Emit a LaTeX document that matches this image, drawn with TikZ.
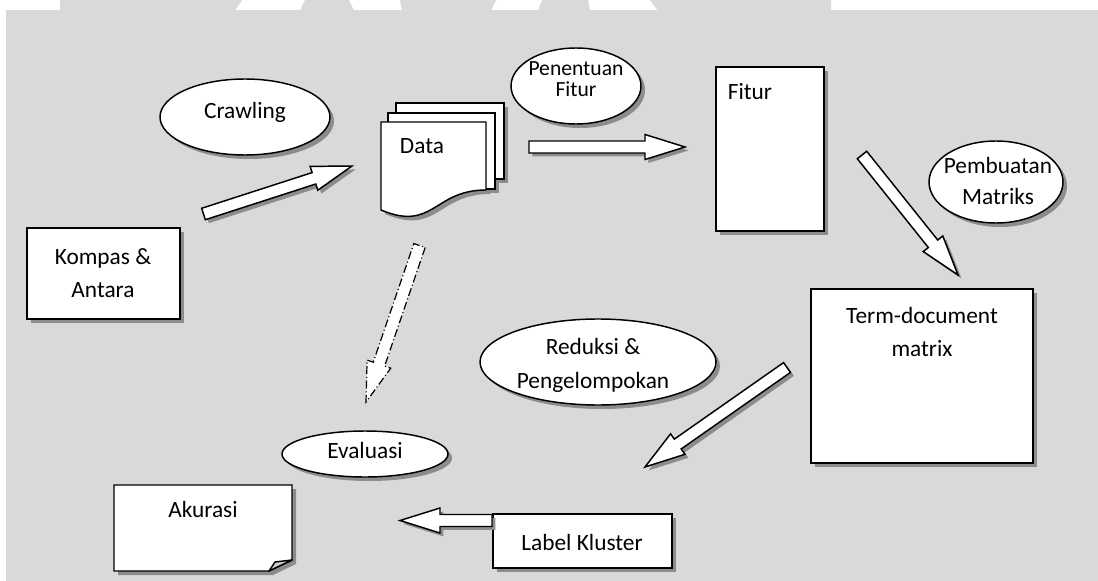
\documentclass[tikz,border=0pt]{standalone}
\usepackage{fontspec}
\setmainfont{Carlito}
\usetikzlibrary{shapes.geometric,shadows}
\definecolor{bgc}{HTML}{D9D9D9}
\definecolor{shadowc}{HTML}{8C8C8C}
\definecolor{foldc}{HTML}{CDCDCD}
\tikzset{
  shapebase/.style={draw=black, line width=1.1pt, fill=white},
  shd/.style={drop shadow={shadow xshift=3pt, shadow yshift=-3pt, opacity=1, fill=shadowc}},
  boxnode/.style={shapebase, shd, rectangle, inner sep=0pt, outer sep=0pt},
  ellnode/.style={shapebase, shd, ellipse, inner sep=0pt, outer sep=0pt},
  txt/.style={font=\fontsize{17.5}{24.75}\selectfont, inner sep=0pt, anchor=base, text=black},
  smalltxt/.style={txt, font=\fontsize{16.2}{20}\selectfont},
  arrowbody/.style={draw=black, line width=1.1pt, fill=white, line join=miter},
  dasharrow/.style={draw=black, line width=0.9pt, fill=white, dash pattern=on 6pt off 2pt on 0.8pt off 2pt},
}
% block arrow helpers
\newcommand\bcompute[2]{%
  \pgfpointanchor{#1}{center}\pgfgetlastxy{\bsx}{\bsy}%
  \pgfpointanchor{#2}{center}\pgfgetlastxy{\bex}{\bey}%
  \pgfmathsetmacro\bang{atan2(\bey-\bsy,\bex-\bsx)}%
  \pgfmathsetmacro\blen{veclen(\bex-\bsx,\bey-\bsy)/0.75}%
  \pgfmathsetmacro\bhb{\blen-40}%
}
\newcommand\bshape{(0,-6) -- (\bhb,-6) -- (\bhb,-12.5) -- (\blen,0) -- (\bhb,12.5) -- (\bhb,6) -- (0,6) -- cycle}
\newcommand\barrow[2]{%
  \bcompute{#1}{#2}%
  \begin{scope}[shift={(\bsx+2.6pt,\bsy-2.6pt)},rotate=\bang]
    \fill[shadowc] \bshape;
  \end{scope}
  \begin{scope}[shift={(\bsx,\bsy)},rotate=\bang]
    \path[arrowbody] \bshape;
  \end{scope}
}
\newcommand\dbarrow[2]{%
  \bcompute{#1}{#2}%
  \begin{scope}[shift={(\bsx,\bsy)},rotate=\bang]
    \path[dasharrow] \bshape;
  \end{scope}
}
\begin{document}
\begin{tikzpicture}[x=0.75pt,y=-0.75pt]
\useasboundingbox (0,0) rectangle (1098,581);
% background
\fill[white] (0,0) rectangle (1098,581);
\fill[bgc] (6,10.5) rectangle (1098,581);
\fill[bgc] (60,0) -- (242,0) -- (235,10.6) -- (60,10.6) -- cycle;
\fill[bgc] (305,0) -- (349,0) -- (354,10.6) -- (300,10.6) -- cycle;
\fill[bgc] (400,0) -- (496,0) -- (491,10.6) -- (402,10.6) -- cycle;
\fill[bgc] (542,0) -- (588,0) -- (590,10.6) -- (538,10.6) -- cycle;
\fill[bgc] (650,0) -- (831,0) -- (831,10.6) -- (658,10.6) -- cycle;

% boxes
\node[boxnode, minimum width=114.75pt, minimum height=68.25pt] (kompas) at (103.5,273.5) {};
\node[boxnode, minimum width=81pt, minimum height=123pt] (fitur) at (770,149) {};
\node[boxnode, minimum width=166.5pt, minimum height=130.5pt] (term) at (922,376) {};
\node[boxnode, minimum width=134.25pt, minimum height=40.5pt] (label) at (582.5,541) {};

% ellipses
\node[ellnode, minimum width=127.5pt, minimum height=57pt] (crawl) at (245,117) {};
\node[ellnode, minimum width=97.5pt, minimum height=57pt] (penentuan) at (576,86) {};
\node[ellnode, minimum width=100.5pt, minimum height=61.5pt] (pembuatan) at (996,182) {};
\node[ellnode, minimum width=177pt, minimum height=64.5pt] (reduksi) at (598,362) {};
\node[ellnode, minimum width=124.5pt, minimum height=34.5pt] (evaluasi) at (365,454) {};

% multi-document "Data"
\begin{scope}[shift={(4,4)}]
  \fill[shadowc] (396,103) rectangle (504,179);
  \fill[shadowc] (388,113) rectangle (495,189);
  \fill[shadowc] (381,122) -- (486,122) -- (486,190) .. controls (433.5,190) and (433.5,232) .. (381,210) -- cycle;
\end{scope}
\path[shapebase] (396,103) rectangle (504,179);
\path[shapebase] (388,113) rectangle (495,189);
\path[shapebase] (381,122) -- (486,122) -- (486,190) .. controls (433.5,190) and (433.5,232) .. (381,210) -- cycle;
\coordinate (data) at (433,160);

% folded-corner "Akurasi"
\fill[shadowc] (118,489) -- (296,489) -- (296,564) -- (273,575) -- (118,575) -- cycle;
\path[shapebase] (114,485) -- (292,485) -- (292,560) -- (269,571) -- (114,571) -- cycle;
\path[draw=black, line width=1.1pt, fill=foldc, line join=round] (269,571) -- (275,562) -- (292,560) -- cycle;
\coordinate (akurasi) at (203,528);

% arrow end points
\coordinate (a1s) at (203.5,214);   \coordinate (a1e) at (352,166);
\coordinate (a2s) at (529,147);     \coordinate (a2e) at (685,147);
\coordinate (a3s) at (862,155);     \coordinate (a3e) at (958,275);
\coordinate (a4s) at (787,367.5);   \coordinate (a4e) at (645,467);
\coordinate (a5s) at (492,520.5);   \coordinate (a5e) at (400,520.5);
\coordinate (a6s) at (419.5,245.5); \coordinate (a6e) at (366,402);

\barrow{a1s}{a1e}
\barrow{a2s}{a2e}
\barrow{a3s}{a3e}
\barrow{a4s}{a4e}
\barrow{a5s}{a5e}
\dbarrow{a6s}{a6e}

% texts
\node[txt] (tcrawl) at (245,119) {Crawling};
\node[txt] (tdata) at (422,153) {Data};
\node[txt] (tkompas1) at (103,264) {Kompas \&};
\node[txt] (tkompas2) at (103,297) {Antara};
\node[smalltxt] (tpen1) at (576,76) {Penentuan};
\node[smalltxt] (tpen2) at (576,97) {Fitur};
\node[txt] (tfitur) at (750,100) {Fitur};
\node[txt] (tpem1) at (998,173) {Pembuatan};
\node[txt] (tpem2) at (998,204) {Matriks};
\node[txt] (tterm1) at (922,323) {Term-document};
\node[txt] (tterm2) at (922,356) {matrix};
\node[txt] (tred1) at (593,354) {Reduksi \&};
\node[txt] (tred2) at (593,388) {Pengelompokan};
\node[txt] (teval) at (365,458) {Evaluasi};
\node[txt] (tlabel) at (582,550) {Label Kluster};
\node[txt] (takur) at (203,517) {Akurasi};
\end{tikzpicture}
\end{document}
